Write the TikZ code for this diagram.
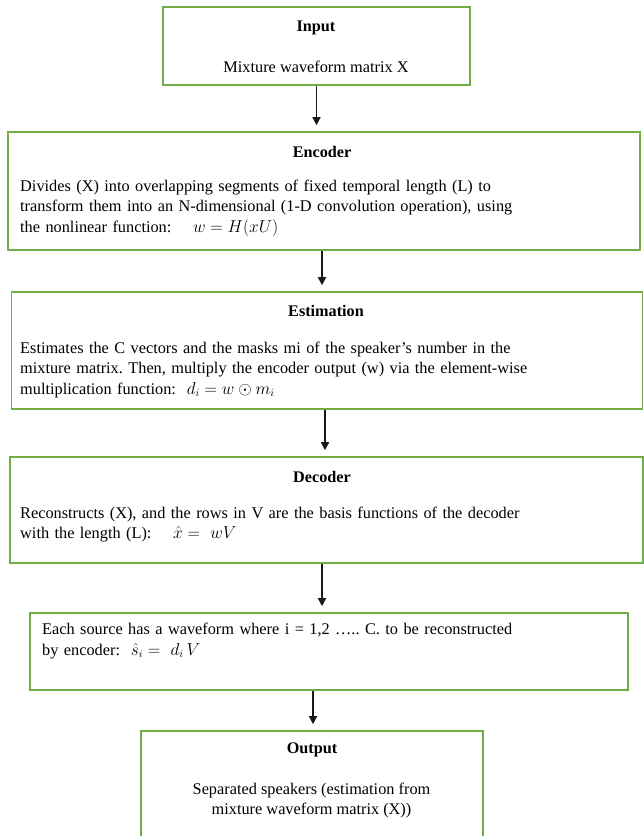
\documentclass[tikz,border=0pt]{standalone}
\usepackage{fontspec}
\setmainfont{Liberation Serif}
\usetikzlibrary{arrows.meta}
\definecolor{boxgreen}{HTML}{70AD47}
\frenchspacing
\begin{document}
\begin{tikzpicture}[x=1pt,y=-1pt,
  box/.style={draw=boxgreen,line width=1.6pt,rectangle,inner sep=0pt},
  ttl/.style={font=\fontsize{16.2}{20.5}\selectfont\bfseries,inner sep=0pt},
  body/.style={font=\fontsize{16.3}{20.5}\selectfont,inner sep=0pt,align=left,anchor=west},
  cbody/.style={font=\fontsize{16.3}{20.5}\selectfont,inner sep=0pt,align=center},
  arr/.style={draw=black!90,line width=1.4pt,-{Triangle[length=8pt,width=8pt]},shorten >=6pt}]
\useasboundingbox (0,0) rectangle (644,836);
\fill[white] (0,0) rectangle (644,836);
% boxes
\node[box,minimum width=307pt,minimum height=78pt] (in) at (316.5,46) {};
\node[box,minimum width=632pt,minimum height=118pt] (enc) at (324,191) {};
\node[box,minimum width=631pt,minimum height=117pt] (est) at (327,350.5) {};
\node[box,minimum width=633pt,minimum height=106pt] (dec) at (326.5,510) {};
\node[box,minimum width=598pt,minimum height=77pt] (src) at (329,651.5) {};
\node[box,minimum width=342pt,minimum height=112pt] (out) at (312,787) {};
% texts
\node[ttl] (inT) at (316,28) {Input};
\node[cbody] (inB) at (316,67) {Mixture waveform matrix X};
\node[ttl] (encT) at (322,152) {Encoder};
\node[body,text width=620pt] (encB) at (20,208) {Divides (X) into overlapping segments of fixed temporal length (L) to\\transform them into an N-dimensional (1-D convolution operation), using\\the nonlinear function:\quad\ $w = H(xU)$};
\node[ttl] (estT) at (326,311) {Estimation};
\node[body,text width=620pt] (estB) at (20,369.5) {Estimates the C vectors and the masks mi of the speaker's number in the\\mixture matrix. Then, multiply the encoder output (w) via the element-wise\\multiplication function:\ \ $d_i = w \odot m_i$};
\node[ttl] (decT) at (322,477) {Decoder};
\node[body,text width=620pt] (decB) at (20,524.5) {Reconstructs (X), and the rows in V are the basis functions of the decoder\\with the length (L):\quad\ $\hat{x} = \ wV$};
\node[body,text width=580pt] (srcB) at (42,641) {Each source has a waveform where i = 1,2 ….. C. to be reconstructed\\by encoder:\ \ $\hat{s}_i = \ d_i\,V$};
\node[ttl] (outT) at (312,750) {Output};
\node[cbody] (outB) at (311.5,800.5) {Separated speakers (estimation from\\mixture waveform matrix (X))};
% arrows
\draw[arr] (in.south) -- (in.south |- enc.north);
\draw[arr] ([xshift=-2pt]enc.south) -- ([xshift=-2pt]enc.south |- est.north);
\draw[arr] ([xshift=-2pt]est.south) -- ([xshift=-2pt]est.south |- dec.north);
\draw[arr] ([xshift=-4.5pt]dec.south) -- ([xshift=-4.5pt]dec.south |- src.north);
\draw[arr] ([xshift=-16pt]src.south) -- ([xshift=-16pt]src.south |- out.north);
\end{tikzpicture}
\end{document}
